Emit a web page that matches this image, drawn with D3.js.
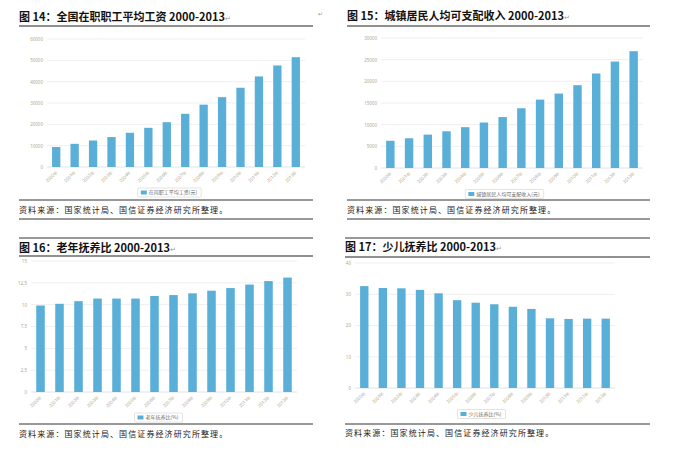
<!DOCTYPE html>
<html>
<head>
<meta charset="utf-8">
<script src="https://cdn.jsdelivr.net/npm/d3@7.9.0/dist/d3.min.js"></script>
<style>
  body { margin: 0; background: #fff; }
  svg { display: block; }
  .title { font-family: "Noto Sans CJK SC", sans-serif; font-weight: 700; font-size: 11px; fill: #111; }
  .source { font-family: "Noto Sans CJK SC", sans-serif; font-size: 8px; letter-spacing: 1.1px; fill: #222; }
  .tick text { font-family: "Noto Sans", sans-serif; fill: #b0a890; }
  .legend text { font-family: "Noto Sans CJK SC", sans-serif; font-size: 5px; fill: #666; }
</style>
</head>
<body>
<svg id="chart" width="689" height="462"></svg>
<script>
const years = ['2000年','2001年','2002年','2003年','2004年','2005年','2006年','2007年','2008年','2009年','2010年','2011年','2012年','2013年'];

const wages = [9371, 10870, 12422, 14040, 16024, 18364, 21001, 24932, 29229, 32736, 37147, 42452, 47593, 51483];
const income = [6280, 6860, 7703, 8472, 9422, 10493, 11759, 13786, 15781, 17175, 19109, 21810, 24565, 26955];
const oldRatio = [9.9, 10.1, 10.4, 10.7, 10.7, 10.7, 11.0, 11.1, 11.3, 11.6, 11.9, 12.3, 12.7, 13.1];
const childRatio = [32.6, 32.0, 31.9, 31.4, 30.3, 28.1, 27.3, 26.8, 26.0, 25.3, 22.3, 22.1, 22.2, 22.2];

const wageTicks = [0, 10000, 20000, 30000, 40000, 50000, 60000];
const incomeTicks = [0, 5000, 10000, 15000, 20000, 25000, 30000];
const oldTicks = [0, 2.5, 5, 7.5, 10, 12.5, 15];
const childTicks = [0, 10, 20, 30, 40];

const svg = d3.select('#chart');
const blue = '#5aafd8';

const panels = [
  { title: '图 14：全国在职职工平均工资 2000-2013', legend: '在岗职工平均工资(元)', values: wages, ticks: wageTicks,
    x0: 19, x1: 313, titleY: 21, topLine: null, titleLine: 26, plot: [47, 305, 39, 167], legendY: 192.5, legendX: 168,
    srcTop: 200, srcY: 213, srcBottom: 219 },
  { title: '图 15：城镇居民人均可支配收入 2000-2013', legend: '城镇居民人均可支配收入(元)', values: income, ticks: incomeTicks,
    x0: 347, x1: 650, titleY: 20, topLine: null, titleLine: 26, plot: [381, 643, 38, 168], legendY: 194, legendX: 503,
    srcTop: 200, srcY: 213, srcBottom: 219 },
  { title: '图 16：老年抚养比 2000-2013', legend: '老年抚养比(%)', values: oldRatio, ticks: oldTicks,
    x0: 19, x1: 313, titleY: 252, topLine: 238, titleLine: 256, plot: [31, 297, 261, 392], legendY: 417.5, legendX: 157,
    srcTop: 424, srcY: 437, srcBottom: null },
  { title: '图 17：少儿抚养比 2000-2013', legend: '少儿抚养比(%)', values: childRatio, ticks: childTicks,
    x0: 345, x1: 650, titleY: 251, topLine: 238, titleLine: 257, plot: [355, 615, 263, 388], legendY: 414, legendX: 480,
    srcTop: 424, srcY: 436, srcBottom: null }
];

function drawPanel(p) {
  const g = svg.append('g');
  const [left, right, top, bottom] = p.plot;

  if (p.topLine !== null) {
    g.append('line').attr('x1', p.x0).attr('x2', p.x1).attr('y1', p.topLine).attr('y2', p.topLine)
      .attr('stroke', '#333').attr('stroke-width', 1);
  }
  const t = g.append('text').attr('class', 'title').attr('x', p.x0).attr('y', p.titleY).text(p.title);
  t.append('tspan').attr('font-size', 7).attr('font-weight', 400).attr('fill', '#999').text('↵');
  g.append('line').attr('x1', p.x0).attr('x2', p.x1).attr('y1', p.titleLine).attr('y2', p.titleLine)
    .attr('stroke', '#222').attr('stroke-width', 1.2);

  const x = d3.scaleBand().domain(years).range([left, right]).paddingInner(0.55).paddingOuter(0.275);
  const y = d3.scaleLinear().domain([0, d3.max(p.ticks)]).range([bottom, top]);

  // grid lines
  g.append('g').selectAll('line').data(p.ticks).join('line')
    .attr('x1', left).attr('x2', right)
    .attr('y1', d => y(d)).attr('y2', d => y(d))
    .attr('stroke', d => d === 0 ? '#d5dde3' : '#ebebeb').attr('stroke-width', 0.8);

  const yAxis = g.append('g').attr('transform', `translate(${left - 3},0)`)
    .call(d3.axisLeft(y).tickValues(p.ticks).tickSize(0).tickPadding(1).tickFormat(d3.format('')));
  yAxis.select('.domain').remove();
  yAxis.selectAll('text').attr('font-size', 4.5);

  g.append('g').selectAll('rect').data(p.values).join('rect')
    .attr('x', (d, i) => x(years[i])).attr('width', x.bandwidth())
    .attr('y', d => y(d)).attr('height', d => bottom - y(d))
    .attr('fill', blue);

  const xAxis = g.append('g').attr('transform', `translate(0,${bottom})`)
    .call(d3.axisBottom(x).tickSize(0).tickPadding(0));
  xAxis.select('.domain').remove();
  xAxis.selectAll('text')
    .attr('font-size', 4.5)
    .attr('text-anchor', 'end')
    .attr('dy', 0)
    .attr('transform', 'translate(2,5) rotate(-45)');

  // legend
  const lg = g.append('g').attr('class', 'legend');
  const lt = lg.append('text').attr('x', p.legendX + 5).attr('y', p.legendY + 1.8).attr('text-anchor', 'middle').text(p.legend);
  const w = lt.node().getComputedTextLength();
  const bx = p.legendX + 5 - w / 2 - 11;
  lg.insert('rect', 'text').attr('x', bx).attr('y', p.legendY - 4.5).attr('width', w + 15).attr('height', 9)
    .attr('fill', '#fff').attr('stroke', '#d0d0d0').attr('stroke-width', 0.6).attr('rx', 1);
  lg.append('rect').attr('x', bx + 3).attr('y', p.legendY - 2).attr('width', 6).attr('height', 4).attr('fill', blue);

  g.append('line').attr('x1', p.x0).attr('x2', p.x1).attr('y1', p.srcTop).attr('y2', p.srcTop)
    .attr('stroke', '#333').attr('stroke-width', 1);
  g.append('text').attr('class', 'source').attr('x', p.x0).attr('y', p.srcY).text('资料来源：国家统计局、国信证券经济研究所整理。');
  if (p.srcBottom !== null) {
    g.append('line').attr('x1', p.x0).attr('x2', p.x1).attr('y1', p.srcBottom).attr('y2', p.srcBottom)
      .attr('stroke', '#333').attr('stroke-width', 1);
  }
}

panels.forEach(drawPanel);

// small paragraph marks at the right margin
svg.append('text').attr('x', 318).attr('y', 16).attr('font-size', 6).attr('fill', '#999').text('↵');
</script>
</body>
</html>
